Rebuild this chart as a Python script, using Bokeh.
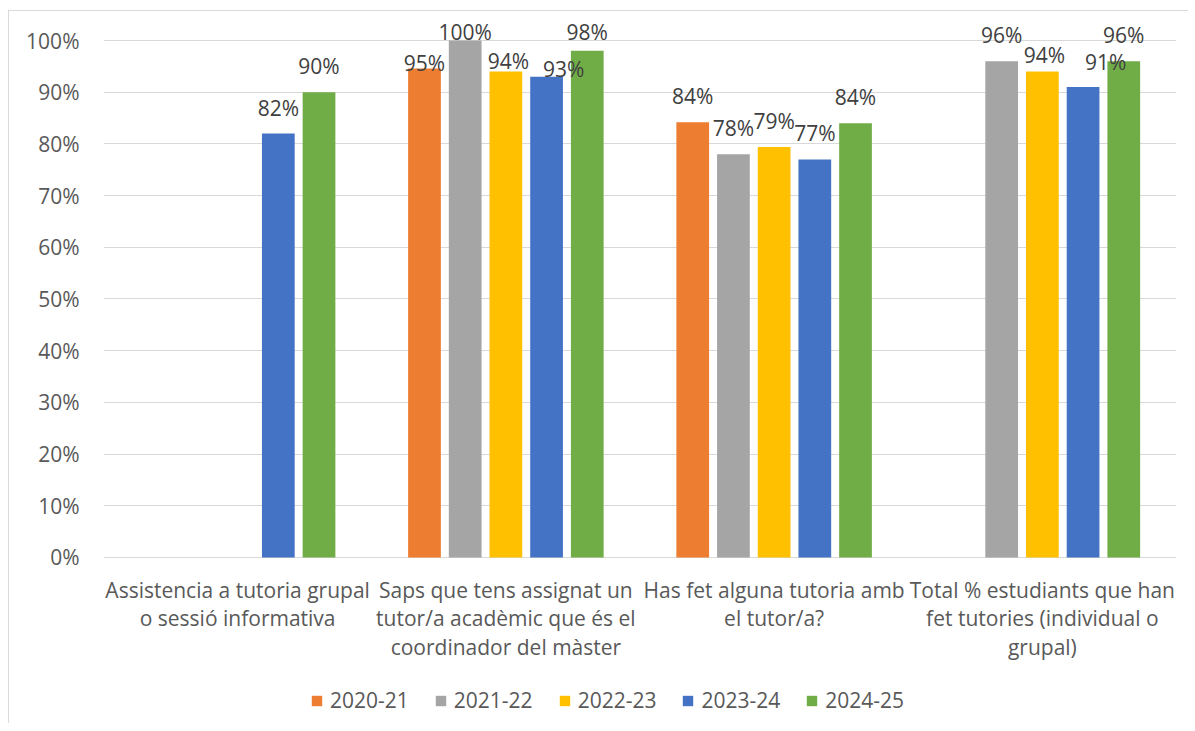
from bokeh.plotting import figure
from bokeh.models import (ColumnDataSource, FixedTicker, Legend, LegendItem, Range1d,
                          NumeralTickFormatter)
from bokeh.core.properties import value
from bokeh.embed import file_html
from bokeh.resources import INLINE

# ---- data ----
categories = [
    "Assistencia a tutoria grupal\no sessió informativa",
    "Saps que tens assignat un\ntutor/a acadèmic que és el\ncoordinador del màster",
    "Has fet alguna tutoria amb\nel tutor/a?",
    "Total % estudiants que han\nfet tutories (individual o\ngrupal)",
]
years = ["2020-21", "2021-22", "2022-23", "2023-24", "2024-25"]
v_2020_21 = [None, 0.946, 0.842, None]
v_2021_22 = [None, 1.00, 0.78, 0.96]
v_2022_23 = [None, 0.94, 0.794, 0.94]
v_2023_24 = [0.82, 0.93, 0.77, 0.91]
v_2024_25 = [0.90, 0.98, 0.84, 0.96]
series = [v_2020_21, v_2021_22, v_2022_23, v_2023_24, v_2024_25]
y_ticks = [0, 0.1, 0.2, 0.3, 0.4, 0.5, 0.6, 0.7, 0.8, 0.9, 1.0]

# ---- style ----
colors = ["#ED7D31", "#A5A5A5", "#FFC000", "#4472C4", "#70AD47"]
FONT = "Open Sans"
pitch = 0.1517
bar_w = 0.122
label_default_dy = 26
cat_first_dy = 32.3      # px below the 0% line, first line centre
cat_line_step = 28.7     # px between category label lines
# per-label nudges (dx, dy above bar top in px) keyed by (series, category)
label_nudge = {
    (0, 1): (0, 5.5), (1, 1): (0, 8.5), (2, 1): (2.5, 10.2), (3, 1): (17, 7.2),
    (4, 1): (0, 19.2), (2, 3): (2, 16.7), (3, 3): (22.5, 25.4),
}

p = figure(frame_width=1073, frame_height=709, output_backend="svg",
           toolbar_location=None, x_axis_location=None,
           x_range=Range1d(0, 4), y_range=Range1d(-0.3211, 1.0503),
           min_border_left=94, min_border_right=12, min_border_top=3,
           min_border_bottom=0)
p.styles = {"border-left": "1px solid #D9D9D9", "border-top": "1px solid #D9D9D9",
            "margin-top": "10px", "margin-left": "8px"}
p.outline_line_color = None
p.background_fill_color = "white"

items = []
label_sources = []
for j, (yr, vals, col) in enumerate(zip(years, series, colors)):
    xs, tops, labs, xo, yo = [], [], [], [], []
    for i, v in enumerate(vals):
        if v is None:
            continue
        xs.append(i + 0.5 + (j - 2) * pitch)
        tops.append(v)
        labs.append(f"{round(v * 100):d}%")
        dx, dy = label_nudge.get((j, i), (0, label_default_dy))
        xo.append(dx)
        yo.append(-dy)
    src = ColumnDataSource(dict(x=xs, top=tops, lab=labs, xo=xo, yo=yo))
    r = p.vbar(x="x", top="top", width=bar_w, source=src, fill_color=col,
               line_color=None)
    label_sources.append(src)
    items.append(LegendItem(label=yr, renderers=[r]))

for src in label_sources:
    p.text(x="x", y="top", text="lab", x_offset="xo", y_offset="yo", source=src,
           text_align="center", text_baseline="middle", text_font=value(FONT),
           text_font_size="21px", text_color="#404040")

# category labels (below the 0% line)
cx, cy, ctext, cyo = [], [], [], []
for i, cat in enumerate(categories):
    for k, line in enumerate(cat.split("\n")):
        cx.append(i + 0.5)
        cy.append(0)
        ctext.append(line)
        cyo.append(cat_first_dy + k * cat_line_step)
p.text(x="x", y="y", text="t", y_offset="yo",
       source=ColumnDataSource(dict(x=cx, y=cy, t=ctext, yo=cyo)),
       text_align="center", text_baseline="middle", text_font=value(FONT),
       text_font_size="21px", text_color="#595959")

# y axis
p.yaxis.ticker = FixedTicker(ticks=y_ticks)
p.yaxis.formatter = NumeralTickFormatter(format="0%")
p.yaxis.major_tick_line_color = None
p.yaxis.minor_tick_line_color = None
p.yaxis.axis_line_color = None
p.yaxis.major_label_standoff = 18
p.yaxis.major_label_text_font = FONT
p.yaxis.major_label_text_font_size = "21px"
p.yaxis.major_label_text_color = "#595959"

p.xgrid.grid_line_color = None
p.ygrid.grid_line_color = "#D9D9D9"
p.ygrid.ticker = FixedTicker(ticks=y_ticks)

legend = Legend(items=items, orientation="horizontal", location=(207, 9),
                glyph_width=13, glyph_height=13, label_standoff=7, spacing=25,
                label_text_font=FONT, label_text_font_size="21px",
                label_text_color="#595959", border_line_color=None,
                background_fill_alpha=0, padding=0, margin=0)
p.add_layout(legend, "center")

open("out.html", "w").write(file_html(p, INLINE))
